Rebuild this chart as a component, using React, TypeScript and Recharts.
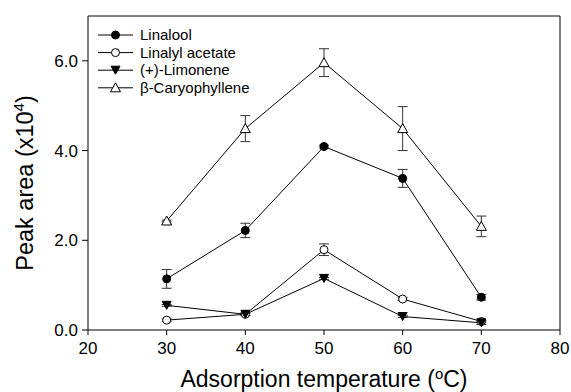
import React from "react";
import {
  ComposedChart,
  Line,
  XAxis,
  YAxis,
  ErrorBar,
  Legend,
  Label,
  ReferenceLine,
} from "recharts";

// adsorption temperature (°C)
const temps = [30, 40, 50, 60, 70];
const xTicks = [20, 30, 40, 50, 60, 70, 80];
const yTicks = [0, 2, 4, 6];

// peak area (x10^4)
const linalool = [1.14, 2.22, 4.09, 3.38, 0.73];
const linaloolErr = [0.21, 0.16, 0.03, 0.2, 0.06];
const acetate = [0.22, 0.35, 1.79, 0.69, 0.19];
const acetateErr = [0.03, 0.03, 0.13, 0.03, 0.03];
const limonene = [0.55, 0.35, 1.15, 0.3, 0.16];
const limoneneErr = [0.02, 0.02, 0.02, 0.02, 0.04];
const caryo = [2.43, 4.49, 5.96, 4.49, 2.31];
const caryoErr = [0.02, 0.29, 0.31, 0.49, 0.23];

const data = temps.map((t, i) => ({
  t,
  linalool: linalool[i],
  linaloolErr: linaloolErr[i],
  acetate: acetate[i],
  acetateErr: acetateErr[i],
  limonene: limonene[i],
  limoneneErr: limoneneErr[i],
  caryo: caryo[i],
  caryoErr: caryoErr[i],
}));

type Shape = "dot" | "circle" | "down" | "up";

const series: { key: string; name: string; shape: Shape }[] = [
  { key: "linalool", name: "Linalool", shape: "dot" },
  { key: "acetate", name: "Linalyl acetate", shape: "circle" },
  { key: "limonene", name: "(+)-Limonene", shape: "down" },
  { key: "caryo", name: "\u03b2-Caryophyllene", shape: "up" },
];

const FONT = "'Liberation Sans', Arial, sans-serif";

function Marker({ cx, cy, shape }: { cx: number; cy: number; shape: Shape }) {
  if (shape === "dot") return <circle cx={cx} cy={cy} r={4} fill="#000" stroke="#000" />;
  if (shape === "circle")
    return <circle cx={cx} cy={cy} r={4} fill="#fff" stroke="#000" strokeWidth={1} />;
  if (shape === "down")
    return (
      <polygon
        points={`${cx - 4.5},${cy - 4} ${cx + 4.5},${cy - 4} ${cx},${cy + 4}`}
        fill="#000"
        stroke="#000"
      />
    );
  return (
    <polygon
      points={`${cx - 5},${cy + 4} ${cx + 5},${cy + 4} ${cx},${cy - 5}`}
      fill="#fff"
      stroke="#000"
      strokeWidth={1}
    />
  );
}

const dotFor = (shape: Shape) => (p: any) =>
  <Marker key={`${shape}-${p.index}`} cx={p.cx} cy={p.cy} shape={shape} />;

function LegendBox() {
  return (
    <svg width={170} height={76} style={{ display: "block" }}>
      {series.map((s, i) => {
        const y = 9 + i * 17.6;
        return (
          <g key={s.key}>
            <line x1={2} x2={37} y1={y} y2={y} stroke="#000" />
            <Marker cx={19.5} cy={y} shape={s.shape} />
            <text x={44} y={y + 5} fontSize={15} fontFamily={FONT} fill="#000">
              {s.name}
            </text>
          </g>
        );
      })}
    </svg>
  );
}

export default function App() {
  return (
    <div style={{ width: 571, height: 392, background: "#fff" }}>
      <style>{`body{margin:0}`}</style>
      <ComposedChart
        width={571}
        height={392}
        data={data}
        margin={{ top: 16, right: 11, left: 0, bottom: 0 }}
      >
        <XAxis
          dataKey="t"
          type="number"
          domain={[20, 80]}
          ticks={xTicks}
          height={62}
          stroke="#000"
          tickSize={5}
          tickMargin={7}
          tick={{ fontSize: 17, fill: "#000", fontFamily: FONT }}
        >
          <Label
            content={() => (
              <text x={324} y={387} textAnchor="middle" fontSize={23} fontFamily={FONT} fill="#000">
                Adsorption temperature (
                <tspan dy={-8} fontSize={15}>o</tspan>
                <tspan dy={8}>C)</tspan>
              </text>
            )}
          />
        </XAxis>
        <YAxis
          type="number"
          domain={[0, 7]}
          ticks={yTicks}
          width={88}
          stroke="#000"
          tickSize={6}
          tickMargin={4}
          tickFormatter={(v: number) => v.toFixed(1)}
          tick={{ fontSize: 17, fill: "#000", fontFamily: FONT }}
        >
          <Label
            content={() => (
              <text
                x={0}
                y={0}
                transform="translate(33,183) rotate(-90)"
                textAnchor="middle"
                fontSize={23.5}
                fontFamily={FONT}
                fill="#000"
              >
                Peak area (x10
                <tspan dy={-9} fontSize={15}>4</tspan>
                <tspan dy={9}>)</tspan>
              </text>
            )}
          />
        </YAxis>
        <ReferenceLine y={7} stroke="#000" />
        <ReferenceLine x={80} stroke="#000" />
        <Legend
          layout="vertical"
          align="center"
          verticalAlign="middle"
          wrapperStyle={{ top: 26, left: 96, width: 170 }}
          content={() => <LegendBox />}
        />
        {series.map((s) => (
          <Line
            key={s.key}
            dataKey={s.key}
            name={s.name}
            stroke="#000"
            strokeWidth={1}
            dot={dotFor(s.shape)}
            activeDot={false}
            isAnimationActive={false}
          >
            <ErrorBar dataKey={`${s.key}Err`} width={5} stroke="#333" strokeWidth={1} direction="y" />
          </Line>
        ))}
      </ComposedChart>
    </div>
  );
}
